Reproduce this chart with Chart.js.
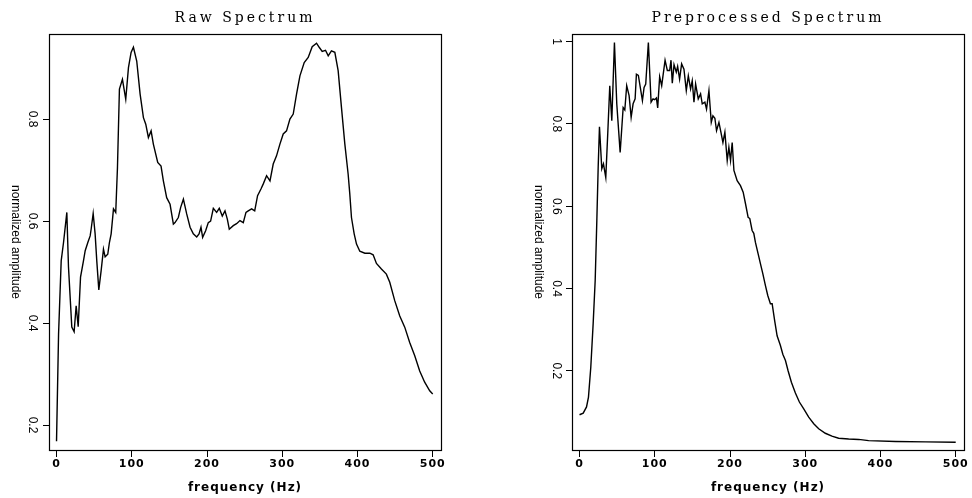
<!DOCTYPE html>
<html lang="en">

<head>
    <meta charset="UTF-8">
    <title>Raw and Preprocessed Spectrum</title>
    <script src="https://cdn.jsdelivr.net/npm/chart.js"></script>
    <style>
        body {
            margin: 0;
            background: #fff;
        }

        #wrap {
            display: flex;
            width: 972px;
            height: 498px;
        }

        canvas {
            display: block;
        }
    </style>
</head>

<body>
    <div id="wrap">
        <canvas id="rawChart" width="486" height="498"></canvas>
        <canvas id="prepChart" width="486" height="498"></canvas>
    </div>

    <script>
        // frequency axis ticks (Hz)
        const xTicks = [0, 100, 200, 300, 400, 500];
        const rawYTicks = [0.2, 0.4, 0.6, 0.8];
        const prepYTicks = [0.2, 0.4, 0.6, 0.8, 1];

        // raw spectrum
        const rawFreq = [0, 2.7, 6.2, 9.3, 13.7, 15.9, 20.3, 23.4, 26.1, 28.8, 31.9, 35.8, 38.1, 41.6, 44.7, 46, 48.7, 51.3,
            53.5, 56.2, 59.3, 62.4, 64.6, 68.1, 70.3, 72.6, 75.7, 78.7, 81, 83.6, 87.6, 92, 95.6, 99.1, 102.2, 106.6, 111.1,
            115.5, 118.6, 122.1, 125.7, 128.7, 134.5, 138.9, 142, 146.4, 150.9, 155.3, 157.5, 161.9, 165, 168.6, 173, 177.5,
            181.8, 186.3, 189.4, 192, 194.2, 198.2, 201.7, 204.8, 208.4, 212.8, 216.3, 220.3, 223.9, 227, 229.6, 234.9, 239.3,
            243.8, 248.2, 251.8, 254.8, 259.3, 263.4, 267.2, 271.7, 274.8, 279.2, 283.7, 288, 292.4, 296.9, 301.3, 305.7,
            310.2, 314.6, 319, 323.5, 329.2, 334.5, 339.8, 345.6, 349.1, 353.1, 357.5, 361.1, 365.4, 369.9, 374.3, 378.7,
            383.2, 387.6, 389.8, 392, 395.6, 398.7, 403.1, 409.8, 416.4, 420.8, 425.2, 431.8, 438.4, 442.9, 449.5, 456.2,
            462.8, 469.4, 476.1, 482.7, 489.3, 496, 500];
        const rawAmp = [0.168, 0.378, 0.522, 0.558, 0.617, 0.51, 0.392, 0.383, 0.434, 0.393, 0.49, 0.522, 0.542, 0.558, 0.571,
            0.584, 0.615, 0.575, 0.522, 0.465, 0.503, 0.545, 0.53, 0.535, 0.558, 0.575, 0.624, 0.617, 0.705, 0.859, 0.878,
            0.839, 0.901, 0.931, 0.941, 0.914, 0.849, 0.803, 0.79, 0.764, 0.777, 0.751, 0.715, 0.708, 0.679, 0.646, 0.633,
            0.594, 0.597, 0.607, 0.627, 0.643, 0.614, 0.588, 0.575, 0.569, 0.575, 0.588, 0.568, 0.581, 0.597, 0.6, 0.625,
            0.617, 0.625, 0.61, 0.62, 0.604, 0.584, 0.591, 0.595, 0.601, 0.597, 0.617, 0.62, 0.624, 0.62, 0.65, 0.663, 0.673,
            0.689, 0.679, 0.712, 0.728, 0.751, 0.771, 0.777, 0.8, 0.81, 0.849, 0.885, 0.911, 0.921, 0.942, 0.949, 0.941,
            0.933, 0.935, 0.924, 0.934, 0.931, 0.895, 0.823, 0.751, 0.692, 0.653, 0.607, 0.575, 0.555, 0.541, 0.537, 0.537,
            0.534, 0.517, 0.506, 0.496, 0.48, 0.444, 0.414, 0.392, 0.362, 0.336, 0.306, 0.284, 0.267, 0.261];

        // preprocessed spectrum
        const prepFreq = [0, 4.9, 9.3, 11.9, 15, 18.1, 20.8, 23, 24.8, 26.5, 29.6, 31.8, 34.9, 37.5, 40.2, 42.9, 46.4, 49.5,
            54, 58, 60.2, 62.7, 65.9, 68.6, 71.2, 73.9, 75.6, 78.2, 83.6, 85.8, 88, 91.5, 95.1, 97.7, 99.9, 102.2, 103.9,
            106.5, 109.2, 113.7, 116.7, 119.8, 121.6, 123.3, 125.6, 128.6, 130.4, 133, 135.7, 138.8, 141.9, 144.6, 147.6,
            149.8, 152.1, 154.3, 157.8, 160.9, 163.1, 166.6, 168.8, 172, 175.1, 177.3, 179.9, 182.1, 185.3, 187.5, 190.6,
            193.2, 196.3, 198.5, 200.7, 202.9, 205.2, 209.5, 213.9, 217.5, 220.6, 224.1, 226.3, 229.4, 231.6, 233.8, 237.4,
            240.5, 243.6, 247.1, 250.2, 253.7, 256, 259.5, 262.6, 266.9, 270.2, 273.7, 277.2, 281.6, 286.9, 292.2, 298,
            304.6, 311.3, 317.9, 326.7, 335.5, 344.4, 357.7, 371, 384.2, 420, 460, 500];
        const prepAmp = [0.093, 0.097, 0.112, 0.136, 0.209, 0.314, 0.419, 0.565, 0.695, 0.793, 0.691, 0.703, 0.67, 0.776,
            0.893, 0.808, 0.998, 0.849, 0.731, 0.84, 0.834, 0.893, 0.869, 0.816, 0.849, 0.861, 0.921, 0.918, 0.857, 0.889,
            0.897, 0.998, 0.853, 0.861, 0.859, 0.863, 0.839, 0.915, 0.893, 0.955, 0.93, 0.93, 0.955, 0.899, 0.944, 0.926,
            0.94, 0.909, 0.946, 0.933, 0.881, 0.917, 0.885, 0.905, 0.853, 0.897, 0.861, 0.873, 0.849, 0.853, 0.836, 0.881,
            0.804, 0.82, 0.814, 0.784, 0.804, 0.784, 0.755, 0.78, 0.711, 0.743, 0.711, 0.755, 0.687, 0.662, 0.65, 0.634,
            0.606, 0.573, 0.57, 0.541, 0.534, 0.512, 0.484, 0.46, 0.436, 0.407, 0.383, 0.363, 0.363, 0.32, 0.285, 0.262,
            0.24, 0.225, 0.2, 0.172, 0.146, 0.124, 0.107, 0.087, 0.071, 0.059, 0.048, 0.041, 0.036, 0.034, 0.033, 0.03,
            0.028, 0.027, 0.026];

        // box, title, rotated y labels
        const specText = {
            id: 'specText',
            beforeDraw(chart) {
                chart.ctx.letterSpacing = '1px';
            },
            afterDraw(chart, args, opts) {
                const { ctx, chartArea: a } = chart;
                const y = chart.scales.y;
                ctx.save();
                ctx.strokeStyle = '#000';
                ctx.lineWidth = 1.2;
                ctx.strokeRect(a.left + 0.5, a.top + 0.5, a.right - a.left, a.bottom - a.top);

                ctx.fillStyle = '#000';
                ctx.textAlign = 'center';
                ctx.textBaseline = 'middle';
                ctx.letterSpacing = '3px';
                ctx.font = '14px "DejaVu Serif"';
                ctx.fillText(opts.title, (a.left + a.right) / 2, 18);

                ctx.letterSpacing = '0px';
                ctx.font = '12px "Liberation Sans"';
                y.ticks.forEach(t => {
                    ctx.save();
                    ctx.translate(opts.tickX, y.getPixelForValue(t.value));
                    ctx.rotate(Math.PI / 2);
                    ctx.fillText(String(t.value), 0, 0);
                    ctx.restore();
                });
                ctx.translate(opts.labelX, (a.top + a.bottom) / 2);
                ctx.rotate(Math.PI / 2);
                ctx.fillText('normalized amplitude', 0, 0);
                ctx.restore();
            }
        };

        function makeChart(id, freq, amp, yTicks, cfg) {
            const points = freq.map((f, i) => ({ x: f, y: amp[i] }));
            return new Chart(document.getElementById(id), {
                type: 'line',
                data: {
                    datasets: [{
                        data: points,
                        borderColor: '#000',
                        borderWidth: 1.4,
                        pointRadius: 0,
                        tension: 0,
                        fill: false
                    }]
                },
                options: {
                    responsive: false,
                    animation: false,
                    layout: { padding: { top: 34, right: cfg.right, left: 0, bottom: 0 } },
                    scales: {
                        x: {
                            type: 'linear',
                            min: -10,
                            max: 511,
                            afterBuildTicks: s => { s.ticks = xTicks.map(v => ({ value: v })); },
                            afterFit: s => { s.height = 48; s.paddingLeft = 0; s.paddingRight = 0; },
                            grid: { drawOnChartArea: false, drawTicks: true, tickLength: 7, color: '#000', lineWidth: 1 },
                            border: { display: false },
                            ticks: {
                                color: '#000',
                                padding: 1,
                                maxRotation: 0,
                                font: { family: 'DejaVu Sans', size: 11, weight: 'bold' }
                            },
                            title: {
                                display: true,
                                text: 'frequency (Hz)',
                                color: '#000',
                                padding: { top: 0, bottom: 3 },
                                font: { family: 'DejaVu Sans', size: 12, weight: 'bold' }
                            }
                        },
                        y: {
                            type: 'linear',
                            min: cfg.yMin,
                            max: cfg.yMax,
                            afterBuildTicks: s => { s.ticks = yTicks.map(v => ({ value: v })); },
                            afterFit: s => { s.width = cfg.left; s.paddingTop = 0; s.paddingBottom = 0; },
                            grid: { drawOnChartArea: false, drawTicks: true, tickLength: 6, color: '#000', lineWidth: 1 },
                            border: { display: false },
                            ticks: { display: false }
                        }
                    },
                    plugins: {
                        legend: { display: false },
                        tooltip: { enabled: false },
                        specText: { title: cfg.title, tickX: cfg.tickX, labelX: cfg.labelX }
                    }
                },
                plugins: [specText]
            });
        }

        makeChart('rawChart', rawFreq, rawAmp, rawYTicks, {
            title: 'Raw Spectrum', left: 49, right: 45, yMin: 0.151, yMax: 0.967, tickX: 32, labelX: 15
        });
        makeChart('prepChart', prepFreq, prepAmp, prepYTicks, {
            title: 'Preprocessed Spectrum', left: 86, right: 8, yMin: 0.0073, yMax: 1.0187, tickX: 70, labelX: 52
        });
    </script>
</body>

</html>
